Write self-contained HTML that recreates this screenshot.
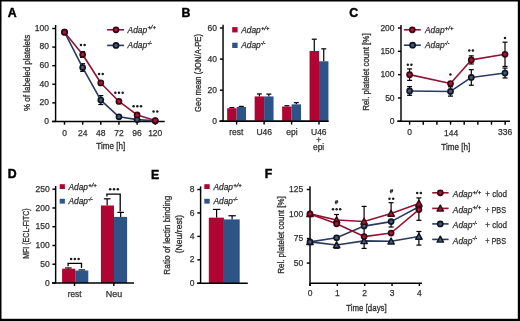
<!DOCTYPE html>
<html><head><meta charset="utf-8"><style>
html,body{margin:0;padding:0;background:#fff;}
body{width:520px;height:321px;overflow:hidden;}
svg{display:block;font-family:"Liberation Sans", sans-serif;will-change:transform;}
</style></head><body>
<svg width="520" height="321" viewBox="0 0 520 321">
<rect width="520" height="321" fill="#fff"/>
<rect x="0.00" y="0.00" width="520.00" height="1.50" fill="#000"/>
<rect x="0.00" y="0.00" width="1.50" height="321.00" fill="#000"/>
<rect x="517.80" y="0.00" width="2.20" height="321.00" fill="#000"/>
<rect x="0.00" y="318.80" width="520.00" height="2.20" fill="#000"/>
<text x="7.80" y="17.00" font-size="12.3" text-anchor="start" fill="#000" stroke="#000" stroke-width="0.45" font-weight="bold">A</text>
<text x="181.50" y="17.30" font-size="12.3" text-anchor="start" fill="#000" stroke="#000" stroke-width="0.45" font-weight="bold">B</text>
<text x="349.20" y="17.10" font-size="12.3" text-anchor="start" fill="#000" stroke="#000" stroke-width="0.45" font-weight="bold">C</text>
<text x="7.70" y="178.30" font-size="12.3" text-anchor="start" fill="#000" stroke="#000" stroke-width="0.45" font-weight="bold">D</text>
<text x="150.90" y="178.50" font-size="12.3" text-anchor="start" fill="#000" stroke="#000" stroke-width="0.45" font-weight="bold">E</text>
<text x="264.70" y="178.40" font-size="12.3" text-anchor="start" fill="#000" stroke="#000" stroke-width="0.45" font-weight="bold">F</text>
<line x1="55.60" y1="25.00" x2="55.60" y2="121.45" stroke="#000000" stroke-width="1.45"/>
<line x1="52.20" y1="121.45" x2="164.70" y2="121.45" stroke="#000000" stroke-width="1.45"/>
<line x1="52.30" y1="121.45" x2="55.60" y2="121.45" stroke="#000000" stroke-width="1.45"/>
<text x="49.00" y="123.75" font-size="8.6" text-anchor="end" fill="#303030" stroke="#303030" stroke-width="0.25" textLength="4.73" lengthAdjust="spacingAndGlyphs">0</text>
<line x1="52.30" y1="102.86" x2="55.60" y2="102.86" stroke="#000000" stroke-width="1.45"/>
<text x="49.00" y="105.16" font-size="8.6" text-anchor="end" fill="#303030" stroke="#303030" stroke-width="0.25" textLength="9.47" lengthAdjust="spacingAndGlyphs">20</text>
<line x1="52.30" y1="84.27" x2="55.60" y2="84.27" stroke="#000000" stroke-width="1.45"/>
<text x="49.00" y="86.57" font-size="8.6" text-anchor="end" fill="#303030" stroke="#303030" stroke-width="0.25" textLength="9.47" lengthAdjust="spacingAndGlyphs">40</text>
<line x1="52.30" y1="65.68" x2="55.60" y2="65.68" stroke="#000000" stroke-width="1.45"/>
<text x="49.00" y="67.98" font-size="8.6" text-anchor="end" fill="#303030" stroke="#303030" stroke-width="0.25" textLength="9.47" lengthAdjust="spacingAndGlyphs">60</text>
<line x1="52.30" y1="47.09" x2="55.60" y2="47.09" stroke="#000000" stroke-width="1.45"/>
<text x="49.00" y="49.39" font-size="8.6" text-anchor="end" fill="#303030" stroke="#303030" stroke-width="0.25" textLength="9.47" lengthAdjust="spacingAndGlyphs">80</text>
<line x1="52.30" y1="28.50" x2="55.60" y2="28.50" stroke="#000000" stroke-width="1.45"/>
<text x="49.00" y="30.80" font-size="8.6" text-anchor="end" fill="#303030" stroke="#303030" stroke-width="0.25" textLength="14.20" lengthAdjust="spacingAndGlyphs">100</text>
<line x1="64.50" y1="121.45" x2="64.50" y2="124.70" stroke="#000000" stroke-width="1.45"/>
<text x="64.50" y="135.70" font-size="8.6" text-anchor="middle" fill="#303030" stroke="#303030" stroke-width="0.25" textLength="4.73" lengthAdjust="spacingAndGlyphs">0</text>
<line x1="82.65" y1="121.45" x2="82.65" y2="124.70" stroke="#000000" stroke-width="1.45"/>
<text x="82.65" y="135.70" font-size="8.6" text-anchor="middle" fill="#303030" stroke="#303030" stroke-width="0.25" textLength="9.47" lengthAdjust="spacingAndGlyphs">24</text>
<line x1="100.80" y1="121.45" x2="100.80" y2="124.70" stroke="#000000" stroke-width="1.45"/>
<text x="100.80" y="135.70" font-size="8.6" text-anchor="middle" fill="#303030" stroke="#303030" stroke-width="0.25" textLength="9.47" lengthAdjust="spacingAndGlyphs">48</text>
<line x1="118.95" y1="121.45" x2="118.95" y2="124.70" stroke="#000000" stroke-width="1.45"/>
<text x="118.95" y="135.70" font-size="8.6" text-anchor="middle" fill="#303030" stroke="#303030" stroke-width="0.25" textLength="9.47" lengthAdjust="spacingAndGlyphs">72</text>
<line x1="137.10" y1="121.45" x2="137.10" y2="124.70" stroke="#000000" stroke-width="1.45"/>
<text x="137.10" y="135.70" font-size="8.6" text-anchor="middle" fill="#303030" stroke="#303030" stroke-width="0.25" textLength="9.47" lengthAdjust="spacingAndGlyphs">96</text>
<line x1="155.25" y1="121.45" x2="155.25" y2="124.70" stroke="#000000" stroke-width="1.45"/>
<text x="155.25" y="135.70" font-size="8.6" text-anchor="middle" fill="#303030" stroke="#303030" stroke-width="0.25" textLength="14.20" lengthAdjust="spacingAndGlyphs">120</text>
<text x="110.80" y="148.80" font-size="9.8" text-anchor="middle" fill="#303030" stroke="#303030" stroke-width="0.33" textLength="28.90" lengthAdjust="spacingAndGlyphs">Time [h]</text>
<text x="29.70" y="72.90" font-size="9.8" text-anchor="middle" fill="#303030" stroke="#303030" stroke-width="0.33" textLength="76.40" lengthAdjust="spacingAndGlyphs" transform="rotate(-90 29.70 72.90)">% of labeled platelets</text>
<line x1="82.65" y1="63.73" x2="82.65" y2="71.35" stroke="#000000" stroke-width="1.2"/>
<line x1="80.15" y1="63.73" x2="85.15" y2="63.73" stroke="#000000" stroke-width="1.2"/>
<line x1="80.15" y1="71.35" x2="85.15" y2="71.35" stroke="#000000" stroke-width="1.2"/>
<line x1="100.80" y1="95.61" x2="100.80" y2="104.53" stroke="#000000" stroke-width="1.2"/>
<line x1="98.30" y1="95.61" x2="103.30" y2="95.61" stroke="#000000" stroke-width="1.2"/>
<line x1="98.30" y1="104.53" x2="103.30" y2="104.53" stroke="#000000" stroke-width="1.2"/>
<line x1="82.65" y1="51.64" x2="82.65" y2="57.41" stroke="#000000" stroke-width="1.2"/>
<line x1="80.15" y1="51.64" x2="85.15" y2="51.64" stroke="#000000" stroke-width="1.2"/>
<line x1="80.15" y1="57.41" x2="85.15" y2="57.41" stroke="#000000" stroke-width="1.2"/>
<line x1="100.80" y1="81.11" x2="100.80" y2="84.83" stroke="#000000" stroke-width="1.2"/>
<line x1="98.30" y1="81.11" x2="103.30" y2="81.11" stroke="#000000" stroke-width="1.2"/>
<line x1="98.30" y1="84.83" x2="103.30" y2="84.83" stroke="#000000" stroke-width="1.2"/>
<line x1="118.95" y1="100.07" x2="118.95" y2="102.86" stroke="#000000" stroke-width="1.2"/>
<line x1="116.45" y1="100.07" x2="121.45" y2="100.07" stroke="#000000" stroke-width="1.2"/>
<line x1="116.45" y1="102.86" x2="121.45" y2="102.86" stroke="#000000" stroke-width="1.2"/>
<polyline points="64.50,32.22 82.65,67.54 100.80,100.07 118.95,116.80 137.10,119.59 155.25,120.89" fill="none" stroke="#2a3b5c" stroke-width="1.6" stroke-linejoin="round"/>
<polyline points="64.50,32.22 82.65,54.53 100.80,82.97 118.95,101.47 137.10,114.94 155.25,120.52" fill="none" stroke="#931334" stroke-width="1.6" stroke-linejoin="round"/>
<circle cx="64.50" cy="32.22" r="2.55" fill="#4a5872" stroke="#0e1424" stroke-width="1.65"/>
<circle cx="82.65" cy="67.54" r="2.55" fill="#4a5872" stroke="#0e1424" stroke-width="1.65"/>
<circle cx="100.80" cy="100.07" r="2.55" fill="#4a5872" stroke="#0e1424" stroke-width="1.65"/>
<circle cx="118.95" cy="116.80" r="2.55" fill="#4a5872" stroke="#0e1424" stroke-width="1.65"/>
<circle cx="137.10" cy="119.59" r="2.55" fill="#4a5872" stroke="#0e1424" stroke-width="1.65"/>
<circle cx="155.25" cy="120.89" r="2.55" fill="#4a5872" stroke="#0e1424" stroke-width="1.65"/>
<circle cx="64.50" cy="32.22" r="2.55" fill="#a3183c" stroke="#3a0612" stroke-width="1.65"/>
<circle cx="82.65" cy="54.53" r="2.55" fill="#a3183c" stroke="#3a0612" stroke-width="1.65"/>
<circle cx="100.80" cy="82.97" r="2.55" fill="#a3183c" stroke="#3a0612" stroke-width="1.65"/>
<circle cx="118.95" cy="101.47" r="2.55" fill="#a3183c" stroke="#3a0612" stroke-width="1.65"/>
<circle cx="137.10" cy="114.94" r="2.55" fill="#a3183c" stroke="#3a0612" stroke-width="1.65"/>
<circle cx="155.25" cy="120.52" r="2.55" fill="#a3183c" stroke="#3a0612" stroke-width="1.65"/>
<circle cx="80.95" cy="44.90" r="1.25" fill="#1a1a1a"/>
<circle cx="84.65" cy="44.90" r="1.25" fill="#1a1a1a"/>
<circle cx="99.05" cy="74.00" r="1.25" fill="#1a1a1a"/>
<circle cx="102.75" cy="74.00" r="1.25" fill="#1a1a1a"/>
<circle cx="115.30" cy="92.80" r="1.25" fill="#1a1a1a"/>
<circle cx="119.00" cy="92.80" r="1.25" fill="#1a1a1a"/>
<circle cx="122.70" cy="92.80" r="1.25" fill="#1a1a1a"/>
<circle cx="133.60" cy="106.20" r="1.25" fill="#1a1a1a"/>
<circle cx="137.30" cy="106.20" r="1.25" fill="#1a1a1a"/>
<circle cx="141.00" cy="106.20" r="1.25" fill="#1a1a1a"/>
<circle cx="153.55" cy="111.60" r="1.25" fill="#1a1a1a"/>
<circle cx="157.25" cy="111.60" r="1.25" fill="#1a1a1a"/>
<line x1="107.10" y1="29.80" x2="124.00" y2="29.80" stroke="#931334" stroke-width="1.6"/>
<circle cx="116.00" cy="29.80" r="2.55" fill="#a3183c" stroke="#3a0612" stroke-width="1.65"/>
<line x1="107.20" y1="45.40" x2="124.00" y2="45.40" stroke="#2a3b5c" stroke-width="1.6"/>
<circle cx="116.00" cy="45.40" r="2.55" fill="#4a5872" stroke="#0e1424" stroke-width="1.65"/>
<text x="127.60" y="32.60" font-size="8.2" text-anchor="start" fill="#303030" stroke="#303030" stroke-width="0.25" font-style="italic" textLength="19.60" lengthAdjust="spacingAndGlyphs">Adap</text>
<text x="147.40" y="29.40" font-size="6.0" text-anchor="start" fill="#303030" stroke="#303030" stroke-width="0.35" font-style="italic" textLength="8.60" lengthAdjust="spacingAndGlyphs">+/+</text>
<text x="127.60" y="48.00" font-size="8.2" text-anchor="start" fill="#303030" stroke="#303030" stroke-width="0.25" font-style="italic" textLength="19.60" lengthAdjust="spacingAndGlyphs">Adap</text>
<text x="147.40" y="44.80" font-size="6.0" text-anchor="start" fill="#303030" stroke="#303030" stroke-width="0.35" font-style="italic" textLength="4.40" lengthAdjust="spacingAndGlyphs">-/-</text>
<line x1="223.05" y1="24.70" x2="223.05" y2="121.30" stroke="#000000" stroke-width="1.45"/>
<line x1="219.60" y1="121.30" x2="328.40" y2="121.30" stroke="#000000" stroke-width="1.45"/>
<line x1="219.90" y1="121.30" x2="223.05" y2="121.30" stroke="#000000" stroke-width="1.45"/>
<text x="217.00" y="123.90" font-size="8.6" text-anchor="end" fill="#303030" stroke="#303030" stroke-width="0.25" textLength="4.73" lengthAdjust="spacingAndGlyphs">0</text>
<line x1="219.90" y1="90.20" x2="223.05" y2="90.20" stroke="#000000" stroke-width="1.45"/>
<text x="217.00" y="92.80" font-size="8.6" text-anchor="end" fill="#303030" stroke="#303030" stroke-width="0.25" textLength="9.47" lengthAdjust="spacingAndGlyphs">20</text>
<line x1="219.90" y1="59.10" x2="223.05" y2="59.10" stroke="#000000" stroke-width="1.45"/>
<text x="217.00" y="61.70" font-size="8.6" text-anchor="end" fill="#303030" stroke="#303030" stroke-width="0.25" textLength="9.47" lengthAdjust="spacingAndGlyphs">40</text>
<line x1="219.90" y1="28.00" x2="223.05" y2="28.00" stroke="#000000" stroke-width="1.45"/>
<text x="217.00" y="30.60" font-size="8.6" text-anchor="end" fill="#303030" stroke="#303030" stroke-width="0.25" textLength="9.47" lengthAdjust="spacingAndGlyphs">60</text>
<line x1="231.88" y1="107.62" x2="231.88" y2="108.24" stroke="#000000" stroke-width="1.2"/>
<line x1="229.38" y1="107.62" x2="234.38" y2="107.62" stroke="#000000" stroke-width="1.2"/>
<line x1="241.32" y1="106.37" x2="241.32" y2="106.99" stroke="#000000" stroke-width="1.2"/>
<line x1="238.82" y1="106.37" x2="243.82" y2="106.37" stroke="#000000" stroke-width="1.2"/>
<rect x="227.15" y="108.24" width="9.45" height="13.06" fill="#b00432"/>
<rect x="236.60" y="106.99" width="9.45" height="14.31" fill="#2e5487"/>
<line x1="236.60" y1="121.30" x2="236.60" y2="124.60" stroke="#000000" stroke-width="1.45"/>
<line x1="259.38" y1="93.93" x2="259.38" y2="96.42" stroke="#000000" stroke-width="1.2"/>
<line x1="256.88" y1="93.93" x2="261.88" y2="93.93" stroke="#000000" stroke-width="1.2"/>
<line x1="268.83" y1="94.09" x2="268.83" y2="96.42" stroke="#000000" stroke-width="1.2"/>
<line x1="266.33" y1="94.09" x2="271.33" y2="94.09" stroke="#000000" stroke-width="1.2"/>
<rect x="254.65" y="96.42" width="9.45" height="24.88" fill="#b00432"/>
<rect x="264.10" y="96.42" width="9.45" height="24.88" fill="#2e5487"/>
<line x1="264.10" y1="121.30" x2="264.10" y2="124.60" stroke="#000000" stroke-width="1.45"/>
<line x1="286.88" y1="105.75" x2="286.88" y2="106.53" stroke="#000000" stroke-width="1.2"/>
<line x1="284.38" y1="105.75" x2="289.38" y2="105.75" stroke="#000000" stroke-width="1.2"/>
<line x1="296.33" y1="102.64" x2="296.33" y2="104.35" stroke="#000000" stroke-width="1.2"/>
<line x1="293.83" y1="102.64" x2="298.83" y2="102.64" stroke="#000000" stroke-width="1.2"/>
<rect x="282.15" y="106.53" width="9.45" height="14.77" fill="#b00432"/>
<rect x="291.60" y="104.35" width="9.45" height="16.95" fill="#2e5487"/>
<line x1="291.60" y1="121.30" x2="291.60" y2="124.60" stroke="#000000" stroke-width="1.45"/>
<line x1="314.27" y1="39.20" x2="314.27" y2="51.01" stroke="#000000" stroke-width="1.2"/>
<line x1="311.77" y1="39.20" x2="316.77" y2="39.20" stroke="#000000" stroke-width="1.2"/>
<line x1="323.73" y1="48.84" x2="323.73" y2="61.28" stroke="#000000" stroke-width="1.2"/>
<line x1="321.23" y1="48.84" x2="326.23" y2="48.84" stroke="#000000" stroke-width="1.2"/>
<rect x="309.55" y="51.01" width="9.45" height="70.29" fill="#b00432"/>
<rect x="319.00" y="61.28" width="9.45" height="60.02" fill="#2e5487"/>
<line x1="319.00" y1="121.30" x2="319.00" y2="124.60" stroke="#000000" stroke-width="1.45"/>
<line x1="219.60" y1="121.30" x2="328.40" y2="121.30" stroke="#000000" stroke-width="1.45"/>
<text x="236.30" y="134.80" font-size="8.6" text-anchor="middle" fill="#303030" stroke="#303030" stroke-width="0.25" textLength="14.19" lengthAdjust="spacingAndGlyphs">rest</text>
<text x="264.20" y="134.80" font-size="8.6" text-anchor="middle" fill="#303030" stroke="#303030" stroke-width="0.25" textLength="15.62" lengthAdjust="spacingAndGlyphs">U46</text>
<text x="291.90" y="134.80" font-size="8.6" text-anchor="middle" fill="#303030" stroke="#303030" stroke-width="0.25" textLength="11.36" lengthAdjust="spacingAndGlyphs">epi</text>
<text x="318.80" y="134.80" font-size="8.6" text-anchor="middle" fill="#303030" stroke="#303030" stroke-width="0.25" textLength="15.62" lengthAdjust="spacingAndGlyphs">U46</text>
<text x="318.70" y="143.00" font-size="8.6" text-anchor="middle" fill="#303030" stroke="#303030" stroke-width="0.25" textLength="4.97" lengthAdjust="spacingAndGlyphs">+</text>
<text x="318.60" y="150.20" font-size="8.6" text-anchor="middle" fill="#303030" stroke="#303030" stroke-width="0.25" textLength="11.36" lengthAdjust="spacingAndGlyphs">epi</text>
<text x="200.50" y="73.00" font-size="9.8" text-anchor="middle" fill="#303030" stroke="#303030" stroke-width="0.33" textLength="78.00" lengthAdjust="spacingAndGlyphs" transform="rotate(-90 200.50 73.00)">Geo mean (JON/A-PE)</text>
<rect x="232.20" y="27.10" width="5.40" height="5.30" fill="#b00432"/>
<rect x="232.20" y="42.70" width="5.40" height="5.30" fill="#2e5487"/>
<text x="241.20" y="33.00" font-size="8.2" text-anchor="start" fill="#303030" stroke="#303030" stroke-width="0.25" font-style="italic" textLength="19.60" lengthAdjust="spacingAndGlyphs">Adap</text>
<text x="261.00" y="29.80" font-size="6.0" text-anchor="start" fill="#303030" stroke="#303030" stroke-width="0.35" font-style="italic" textLength="8.60" lengthAdjust="spacingAndGlyphs">+/+</text>
<text x="241.20" y="48.30" font-size="8.2" text-anchor="start" fill="#303030" stroke="#303030" stroke-width="0.25" font-style="italic" textLength="19.60" lengthAdjust="spacingAndGlyphs">Adap</text>
<text x="261.00" y="45.10" font-size="6.0" text-anchor="start" fill="#303030" stroke="#303030" stroke-width="0.35" font-style="italic" textLength="4.40" lengthAdjust="spacingAndGlyphs">-/-</text>
<line x1="401.00" y1="25.00" x2="401.00" y2="121.30" stroke="#000000" stroke-width="1.45"/>
<line x1="397.20" y1="121.30" x2="510.00" y2="121.30" stroke="#000000" stroke-width="1.45"/>
<line x1="397.90" y1="121.30" x2="401.00" y2="121.30" stroke="#000000" stroke-width="1.45"/>
<text x="394.60" y="123.90" font-size="8.6" text-anchor="end" fill="#303030" stroke="#303030" stroke-width="0.25" textLength="4.73" lengthAdjust="spacingAndGlyphs">0</text>
<line x1="397.90" y1="97.97" x2="401.00" y2="97.97" stroke="#000000" stroke-width="1.45"/>
<text x="394.60" y="100.57" font-size="8.6" text-anchor="end" fill="#303030" stroke="#303030" stroke-width="0.25" textLength="9.47" lengthAdjust="spacingAndGlyphs">50</text>
<line x1="397.90" y1="74.65" x2="401.00" y2="74.65" stroke="#000000" stroke-width="1.45"/>
<text x="394.60" y="77.25" font-size="8.6" text-anchor="end" fill="#303030" stroke="#303030" stroke-width="0.25" textLength="14.20" lengthAdjust="spacingAndGlyphs">100</text>
<line x1="397.90" y1="51.33" x2="401.00" y2="51.33" stroke="#000000" stroke-width="1.45"/>
<text x="394.60" y="53.93" font-size="8.6" text-anchor="end" fill="#303030" stroke="#303030" stroke-width="0.25" textLength="14.20" lengthAdjust="spacingAndGlyphs">150</text>
<line x1="397.90" y1="28.00" x2="401.00" y2="28.00" stroke="#000000" stroke-width="1.45"/>
<text x="394.60" y="30.60" font-size="8.6" text-anchor="end" fill="#303030" stroke="#303030" stroke-width="0.25" textLength="14.20" lengthAdjust="spacingAndGlyphs">200</text>
<line x1="409.60" y1="121.30" x2="409.60" y2="124.70" stroke="#000000" stroke-width="1.45"/>
<line x1="423.25" y1="121.30" x2="423.25" y2="124.70" stroke="#000000" stroke-width="1.45"/>
<line x1="436.90" y1="121.30" x2="436.90" y2="124.70" stroke="#000000" stroke-width="1.45"/>
<line x1="450.55" y1="121.30" x2="450.55" y2="124.70" stroke="#000000" stroke-width="1.45"/>
<line x1="464.20" y1="121.30" x2="464.20" y2="124.70" stroke="#000000" stroke-width="1.45"/>
<line x1="477.85" y1="121.30" x2="477.85" y2="124.70" stroke="#000000" stroke-width="1.45"/>
<line x1="491.50" y1="121.30" x2="491.50" y2="124.70" stroke="#000000" stroke-width="1.45"/>
<line x1="505.15" y1="121.30" x2="505.15" y2="124.70" stroke="#000000" stroke-width="1.45"/>
<text x="409.70" y="134.90" font-size="8.6" text-anchor="middle" fill="#303030" stroke="#303030" stroke-width="0.25" textLength="4.73" lengthAdjust="spacingAndGlyphs">0</text>
<text x="451.10" y="135.90" font-size="8.6" text-anchor="middle" fill="#303030" stroke="#303030" stroke-width="0.25" textLength="14.20" lengthAdjust="spacingAndGlyphs">144</text>
<text x="505.10" y="134.80" font-size="8.6" text-anchor="middle" fill="#303030" stroke="#303030" stroke-width="0.25" textLength="14.20" lengthAdjust="spacingAndGlyphs">336</text>
<text x="455.80" y="150.20" font-size="9.8" text-anchor="middle" fill="#303030" stroke="#303030" stroke-width="0.33" textLength="28.90" lengthAdjust="spacingAndGlyphs">Time [h]</text>
<text x="369.50" y="72.10" font-size="9.8" text-anchor="middle" fill="#303030" stroke="#303030" stroke-width="0.33" textLength="77.40" lengthAdjust="spacingAndGlyphs" transform="rotate(-90 369.50 72.10)">Rel. platelet count [%]</text>
<line x1="409.60" y1="86.64" x2="409.60" y2="95.32" stroke="#000000" stroke-width="1.2"/>
<line x1="407.10" y1="86.64" x2="412.10" y2="86.64" stroke="#000000" stroke-width="1.2"/>
<line x1="407.10" y1="95.32" x2="412.10" y2="95.32" stroke="#000000" stroke-width="1.2"/>
<line x1="450.50" y1="86.78" x2="450.50" y2="96.11" stroke="#000000" stroke-width="1.2"/>
<line x1="448.00" y1="86.78" x2="453.00" y2="86.78" stroke="#000000" stroke-width="1.2"/>
<line x1="448.00" y1="96.11" x2="453.00" y2="96.11" stroke="#000000" stroke-width="1.2"/>
<line x1="471.30" y1="69.66" x2="471.30" y2="85.24" stroke="#000000" stroke-width="1.2"/>
<line x1="468.80" y1="69.66" x2="473.80" y2="69.66" stroke="#000000" stroke-width="1.2"/>
<line x1="468.80" y1="85.24" x2="473.80" y2="85.24" stroke="#000000" stroke-width="1.2"/>
<line x1="505.00" y1="68.07" x2="505.00" y2="77.96" stroke="#000000" stroke-width="1.2"/>
<line x1="502.50" y1="68.07" x2="507.50" y2="68.07" stroke="#000000" stroke-width="1.2"/>
<line x1="502.50" y1="77.96" x2="507.50" y2="77.96" stroke="#000000" stroke-width="1.2"/>
<line x1="409.60" y1="68.91" x2="409.60" y2="80.39" stroke="#000000" stroke-width="1.2"/>
<line x1="407.10" y1="68.91" x2="412.10" y2="68.91" stroke="#000000" stroke-width="1.2"/>
<line x1="407.10" y1="80.39" x2="412.10" y2="80.39" stroke="#000000" stroke-width="1.2"/>
<line x1="450.50" y1="81.88" x2="450.50" y2="85.15" stroke="#000000" stroke-width="1.2"/>
<line x1="448.00" y1="81.88" x2="453.00" y2="81.88" stroke="#000000" stroke-width="1.2"/>
<line x1="448.00" y1="85.15" x2="453.00" y2="85.15" stroke="#000000" stroke-width="1.2"/>
<line x1="471.30" y1="55.85" x2="471.30" y2="63.97" stroke="#000000" stroke-width="1.2"/>
<line x1="468.80" y1="55.85" x2="473.80" y2="55.85" stroke="#000000" stroke-width="1.2"/>
<line x1="468.80" y1="63.97" x2="473.80" y2="63.97" stroke="#000000" stroke-width="1.2"/>
<line x1="505.00" y1="42.18" x2="505.00" y2="66.44" stroke="#000000" stroke-width="1.2"/>
<line x1="502.50" y1="42.18" x2="507.50" y2="42.18" stroke="#000000" stroke-width="1.2"/>
<line x1="502.50" y1="66.44" x2="507.50" y2="66.44" stroke="#000000" stroke-width="1.2"/>
<polyline points="409.60,90.98 450.50,91.44 471.30,77.45 505.00,73.02" fill="none" stroke="#2a3b5c" stroke-width="1.6" stroke-linejoin="round"/>
<polyline points="409.60,74.65 450.50,83.51 471.30,59.91 505.00,54.31" fill="none" stroke="#931334" stroke-width="1.6" stroke-linejoin="round"/>
<circle cx="409.60" cy="90.98" r="2.55" fill="#4a5872" stroke="#0e1424" stroke-width="1.65"/>
<circle cx="450.50" cy="91.44" r="2.55" fill="#4a5872" stroke="#0e1424" stroke-width="1.65"/>
<circle cx="471.30" cy="77.45" r="2.55" fill="#4a5872" stroke="#0e1424" stroke-width="1.65"/>
<circle cx="505.00" cy="73.02" r="2.55" fill="#4a5872" stroke="#0e1424" stroke-width="1.65"/>
<circle cx="409.60" cy="74.65" r="2.55" fill="#a3183c" stroke="#3a0612" stroke-width="1.65"/>
<circle cx="450.50" cy="83.51" r="2.55" fill="#a3183c" stroke="#3a0612" stroke-width="1.65"/>
<circle cx="471.30" cy="59.91" r="2.55" fill="#a3183c" stroke="#3a0612" stroke-width="1.65"/>
<circle cx="505.00" cy="54.31" r="2.55" fill="#a3183c" stroke="#3a0612" stroke-width="1.65"/>
<circle cx="407.80" cy="64.70" r="1.25" fill="#1a1a1a"/>
<circle cx="411.40" cy="64.70" r="1.25" fill="#1a1a1a"/>
<circle cx="450.40" cy="74.60" r="1.25" fill="#1a1a1a"/>
<circle cx="469.30" cy="50.40" r="1.25" fill="#1a1a1a"/>
<circle cx="472.90" cy="50.40" r="1.25" fill="#1a1a1a"/>
<circle cx="505.00" cy="38.10" r="1.25" fill="#1a1a1a"/>
<line x1="403.90" y1="29.80" x2="420.80" y2="29.80" stroke="#931334" stroke-width="1.6"/>
<circle cx="412.30" cy="29.80" r="2.55" fill="#a3183c" stroke="#3a0612" stroke-width="1.65"/>
<line x1="403.90" y1="45.20" x2="420.80" y2="45.20" stroke="#2a3b5c" stroke-width="1.6"/>
<circle cx="412.60" cy="45.20" r="2.55" fill="#4a5872" stroke="#0e1424" stroke-width="1.65"/>
<text x="425.00" y="32.70" font-size="8.2" text-anchor="start" fill="#303030" stroke="#303030" stroke-width="0.25" font-style="italic" textLength="19.60" lengthAdjust="spacingAndGlyphs">Adap</text>
<text x="444.80" y="29.50" font-size="6.0" text-anchor="start" fill="#303030" stroke="#303030" stroke-width="0.35" font-style="italic" textLength="8.60" lengthAdjust="spacingAndGlyphs">+/+</text>
<text x="425.00" y="47.80" font-size="8.2" text-anchor="start" fill="#303030" stroke="#303030" stroke-width="0.25" font-style="italic" textLength="19.60" lengthAdjust="spacingAndGlyphs">Adap</text>
<text x="444.80" y="44.60" font-size="6.0" text-anchor="start" fill="#303030" stroke="#303030" stroke-width="0.35" font-style="italic" textLength="4.40" lengthAdjust="spacingAndGlyphs">-/-</text>
<line x1="55.65" y1="186.00" x2="55.65" y2="283.00" stroke="#000000" stroke-width="1.45"/>
<line x1="52.40" y1="283.00" x2="55.65" y2="283.00" stroke="#000000" stroke-width="1.45"/>
<text x="49.80" y="285.60" font-size="8.6" text-anchor="end" fill="#303030" stroke="#303030" stroke-width="0.25" textLength="4.73" lengthAdjust="spacingAndGlyphs">0</text>
<line x1="52.40" y1="264.24" x2="55.65" y2="264.24" stroke="#000000" stroke-width="1.45"/>
<text x="49.80" y="266.84" font-size="8.6" text-anchor="end" fill="#303030" stroke="#303030" stroke-width="0.25" textLength="9.47" lengthAdjust="spacingAndGlyphs">50</text>
<line x1="52.40" y1="245.48" x2="55.65" y2="245.48" stroke="#000000" stroke-width="1.45"/>
<text x="49.80" y="248.08" font-size="8.6" text-anchor="end" fill="#303030" stroke="#303030" stroke-width="0.25" textLength="14.20" lengthAdjust="spacingAndGlyphs">100</text>
<line x1="52.40" y1="226.72" x2="55.65" y2="226.72" stroke="#000000" stroke-width="1.45"/>
<text x="49.80" y="229.32" font-size="8.6" text-anchor="end" fill="#303030" stroke="#303030" stroke-width="0.25" textLength="14.20" lengthAdjust="spacingAndGlyphs">150</text>
<line x1="52.40" y1="207.96" x2="55.65" y2="207.96" stroke="#000000" stroke-width="1.45"/>
<text x="49.80" y="210.56" font-size="8.6" text-anchor="end" fill="#303030" stroke="#303030" stroke-width="0.25" textLength="14.20" lengthAdjust="spacingAndGlyphs">200</text>
<line x1="52.40" y1="189.20" x2="55.65" y2="189.20" stroke="#000000" stroke-width="1.45"/>
<text x="49.80" y="191.80" font-size="8.6" text-anchor="end" fill="#303030" stroke="#303030" stroke-width="0.25" textLength="14.20" lengthAdjust="spacingAndGlyphs">250</text>
<line x1="68.35" y1="267.95" x2="68.35" y2="268.70" stroke="#000000" stroke-width="1.2"/>
<line x1="65.05" y1="267.95" x2="71.65" y2="267.95" stroke="#000000" stroke-width="1.2"/>
<line x1="81.85" y1="269.91" x2="81.85" y2="270.51" stroke="#000000" stroke-width="1.2"/>
<line x1="78.55" y1="269.91" x2="85.15" y2="269.91" stroke="#000000" stroke-width="1.2"/>
<rect x="62.10" y="268.70" width="13.10" height="14.30" fill="#b00432"/>
<rect x="75.20" y="270.51" width="13.10" height="12.49" fill="#2e5487"/>
<line x1="107.15" y1="198.81" x2="107.15" y2="205.48" stroke="#000000" stroke-width="1.2"/>
<line x1="103.85" y1="198.81" x2="110.45" y2="198.81" stroke="#000000" stroke-width="1.2"/>
<line x1="120.65" y1="212.39" x2="120.65" y2="216.89" stroke="#000000" stroke-width="1.2"/>
<line x1="117.35" y1="212.39" x2="123.95" y2="212.39" stroke="#000000" stroke-width="1.2"/>
<rect x="100.90" y="205.48" width="13.10" height="77.52" fill="#b00432"/>
<rect x="114.00" y="216.89" width="13.10" height="66.11" fill="#2e5487"/>
<line x1="52.00" y1="283.00" x2="134.00" y2="283.00" stroke="#000000" stroke-width="1.45"/>
<line x1="74.50" y1="283.00" x2="74.50" y2="286.00" stroke="#000000" stroke-width="1.45"/>
<line x1="113.80" y1="283.00" x2="113.80" y2="286.00" stroke="#000000" stroke-width="1.45"/>
<polyline points="68.1,266.3 68.1,263.3 81.5,263.3 81.5,268.1" fill="none" stroke="#000000" stroke-width="1.3"/>
<polyline points="106.9,196.6 106.9,194.2 120.2,194.2 120.2,211.5" fill="none" stroke="#000000" stroke-width="1.3"/>
<circle cx="71.15" cy="259.00" r="1.25" fill="#1a1a1a"/>
<circle cx="74.90" cy="259.00" r="1.25" fill="#1a1a1a"/>
<circle cx="78.65" cy="259.00" r="1.25" fill="#1a1a1a"/>
<circle cx="110.20" cy="189.30" r="1.25" fill="#1a1a1a"/>
<circle cx="114.00" cy="189.30" r="1.25" fill="#1a1a1a"/>
<circle cx="117.80" cy="189.30" r="1.25" fill="#1a1a1a"/>
<text x="74.60" y="296.80" font-size="8.6" text-anchor="middle" fill="#303030" stroke="#303030" stroke-width="0.25" textLength="13.70" lengthAdjust="spacingAndGlyphs">rest</text>
<text x="114.00" y="296.80" font-size="8.6" text-anchor="middle" fill="#303030" stroke="#303030" stroke-width="0.25" textLength="16.40" lengthAdjust="spacingAndGlyphs">Neu</text>
<text x="28.70" y="233.60" font-size="9.8" text-anchor="middle" fill="#303030" stroke="#303030" stroke-width="0.33" textLength="50.40" lengthAdjust="spacingAndGlyphs" transform="rotate(-90 28.70 233.60)">MFI (ECL-FITC)</text>
<rect x="59.70" y="184.20" width="5.20" height="4.80" fill="#b00432"/>
<rect x="59.70" y="198.80" width="5.20" height="4.80" fill="#2e5487"/>
<text x="68.40" y="189.80" font-size="8.2" text-anchor="start" fill="#303030" stroke="#303030" stroke-width="0.25" font-style="italic" textLength="19.60" lengthAdjust="spacingAndGlyphs">Adap</text>
<text x="88.20" y="186.60" font-size="6.0" text-anchor="start" fill="#303030" stroke="#303030" stroke-width="0.35" font-style="italic" textLength="8.60" lengthAdjust="spacingAndGlyphs">+/+</text>
<text x="68.40" y="204.00" font-size="8.2" text-anchor="start" fill="#303030" stroke="#303030" stroke-width="0.25" font-style="italic" textLength="19.60" lengthAdjust="spacingAndGlyphs">Adap</text>
<text x="88.20" y="200.80" font-size="6.0" text-anchor="start" fill="#303030" stroke="#303030" stroke-width="0.35" font-style="italic" textLength="4.40" lengthAdjust="spacingAndGlyphs">-/-</text>
<line x1="200.60" y1="186.40" x2="200.60" y2="283.30" stroke="#000000" stroke-width="1.45"/>
<line x1="197.30" y1="283.30" x2="200.60" y2="283.30" stroke="#000000" stroke-width="1.45"/>
<text x="194.60" y="285.90" font-size="8.6" text-anchor="end" fill="#303030" stroke="#303030" stroke-width="0.25" textLength="4.73" lengthAdjust="spacingAndGlyphs">0</text>
<line x1="197.30" y1="259.85" x2="200.60" y2="259.85" stroke="#000000" stroke-width="1.45"/>
<text x="194.60" y="262.45" font-size="8.6" text-anchor="end" fill="#303030" stroke="#303030" stroke-width="0.25" textLength="4.73" lengthAdjust="spacingAndGlyphs">2</text>
<line x1="197.30" y1="236.40" x2="200.60" y2="236.40" stroke="#000000" stroke-width="1.45"/>
<text x="194.60" y="239.00" font-size="8.6" text-anchor="end" fill="#303030" stroke="#303030" stroke-width="0.25" textLength="4.73" lengthAdjust="spacingAndGlyphs">4</text>
<line x1="197.30" y1="212.95" x2="200.60" y2="212.95" stroke="#000000" stroke-width="1.45"/>
<text x="194.60" y="215.55" font-size="8.6" text-anchor="end" fill="#303030" stroke="#303030" stroke-width="0.25" textLength="4.73" lengthAdjust="spacingAndGlyphs">6</text>
<line x1="197.30" y1="189.50" x2="200.60" y2="189.50" stroke="#000000" stroke-width="1.45"/>
<text x="194.60" y="192.10" font-size="8.6" text-anchor="end" fill="#303030" stroke="#303030" stroke-width="0.25" textLength="4.73" lengthAdjust="spacingAndGlyphs">8</text>
<line x1="216.60" y1="209.43" x2="216.60" y2="217.64" stroke="#000000" stroke-width="1.2"/>
<line x1="212.85" y1="209.43" x2="220.35" y2="209.43" stroke="#000000" stroke-width="1.2"/>
<line x1="232.10" y1="215.76" x2="232.10" y2="219.40" stroke="#000000" stroke-width="1.2"/>
<line x1="228.40" y1="215.76" x2="235.80" y2="215.76" stroke="#000000" stroke-width="1.2"/>
<rect x="208.80" y="217.64" width="15.10" height="65.66" fill="#b00432"/>
<rect x="223.90" y="219.40" width="15.80" height="63.90" fill="#2e5487"/>
<line x1="197.20" y1="283.30" x2="247.80" y2="283.30" stroke="#000000" stroke-width="1.45"/>
<text x="170.10" y="235.10" font-size="9.8" text-anchor="middle" fill="#303030" stroke="#303030" stroke-width="0.33" textLength="79.10" lengthAdjust="spacingAndGlyphs" transform="rotate(-90 170.10 235.10)">Ratio of lectin binding</text>
<text x="182.00" y="234.10" font-size="9.8" text-anchor="middle" fill="#303030" stroke="#303030" stroke-width="0.33" textLength="38.40" lengthAdjust="spacingAndGlyphs" transform="rotate(-90 182.00 234.10)">(Neu/rest)</text>
<rect x="204.30" y="184.20" width="5.40" height="4.80" fill="#b00432"/>
<rect x="204.30" y="198.80" width="5.40" height="4.80" fill="#2e5487"/>
<text x="213.40" y="189.80" font-size="8.2" text-anchor="start" fill="#303030" stroke="#303030" stroke-width="0.25" font-style="italic" textLength="19.60" lengthAdjust="spacingAndGlyphs">Adap</text>
<text x="233.20" y="186.60" font-size="6.0" text-anchor="start" fill="#303030" stroke="#303030" stroke-width="0.35" font-style="italic" textLength="8.60" lengthAdjust="spacingAndGlyphs">+/+</text>
<text x="213.40" y="204.00" font-size="8.2" text-anchor="start" fill="#303030" stroke="#303030" stroke-width="0.25" font-style="italic" textLength="19.60" lengthAdjust="spacingAndGlyphs">Adap</text>
<text x="233.20" y="200.80" font-size="6.0" text-anchor="start" fill="#303030" stroke="#303030" stroke-width="0.35" font-style="italic" textLength="4.40" lengthAdjust="spacingAndGlyphs">-/-</text>
<line x1="310.00" y1="186.20" x2="310.00" y2="286.00" stroke="#000000" stroke-width="1.45"/>
<line x1="306.80" y1="263.07" x2="310.00" y2="263.07" stroke="#000000" stroke-width="1.45"/>
<text x="303.20" y="265.68" font-size="8.6" text-anchor="end" fill="#303030" stroke="#303030" stroke-width="0.25" textLength="9.47" lengthAdjust="spacingAndGlyphs">50</text>
<line x1="306.80" y1="238.55" x2="310.00" y2="238.55" stroke="#000000" stroke-width="1.45"/>
<text x="303.20" y="241.15" font-size="8.6" text-anchor="end" fill="#303030" stroke="#303030" stroke-width="0.25" textLength="9.47" lengthAdjust="spacingAndGlyphs">75</text>
<line x1="306.80" y1="214.03" x2="310.00" y2="214.03" stroke="#000000" stroke-width="1.45"/>
<text x="303.20" y="216.62" font-size="8.6" text-anchor="end" fill="#303030" stroke="#303030" stroke-width="0.25" textLength="14.20" lengthAdjust="spacingAndGlyphs">100</text>
<line x1="306.80" y1="189.50" x2="310.00" y2="189.50" stroke="#000000" stroke-width="1.45"/>
<text x="303.20" y="192.10" font-size="8.6" text-anchor="end" fill="#303030" stroke="#303030" stroke-width="0.25" textLength="14.20" lengthAdjust="spacingAndGlyphs">125</text>
<line x1="310.00" y1="283.20" x2="422.00" y2="283.20" stroke="#000000" stroke-width="1.45"/>
<line x1="310.00" y1="283.20" x2="310.00" y2="286.00" stroke="#000000" stroke-width="1.45"/>
<text x="310.00" y="296.40" font-size="8.6" text-anchor="middle" fill="#303030" stroke="#303030" stroke-width="0.25" textLength="4.73" lengthAdjust="spacingAndGlyphs">0</text>
<line x1="337.35" y1="283.20" x2="337.35" y2="286.00" stroke="#000000" stroke-width="1.45"/>
<text x="337.35" y="296.40" font-size="8.6" text-anchor="middle" fill="#303030" stroke="#303030" stroke-width="0.25" textLength="4.73" lengthAdjust="spacingAndGlyphs">1</text>
<line x1="364.70" y1="283.20" x2="364.70" y2="286.00" stroke="#000000" stroke-width="1.45"/>
<text x="364.70" y="296.40" font-size="8.6" text-anchor="middle" fill="#303030" stroke="#303030" stroke-width="0.25" textLength="4.73" lengthAdjust="spacingAndGlyphs">2</text>
<line x1="392.05" y1="283.20" x2="392.05" y2="286.00" stroke="#000000" stroke-width="1.45"/>
<text x="392.05" y="296.40" font-size="8.6" text-anchor="middle" fill="#303030" stroke="#303030" stroke-width="0.25" textLength="4.73" lengthAdjust="spacingAndGlyphs">3</text>
<line x1="419.40" y1="283.20" x2="419.40" y2="286.00" stroke="#000000" stroke-width="1.45"/>
<text x="419.40" y="296.40" font-size="8.6" text-anchor="middle" fill="#303030" stroke="#303030" stroke-width="0.25" textLength="4.73" lengthAdjust="spacingAndGlyphs">4</text>
<text x="366.50" y="310.50" font-size="9.8" text-anchor="middle" fill="#303030" stroke="#303030" stroke-width="0.33" textLength="40.40" lengthAdjust="spacingAndGlyphs">Time [days]</text>
<text x="283.60" y="235.00" font-size="9.8" text-anchor="middle" fill="#303030" stroke="#303030" stroke-width="0.33" textLength="77.60" lengthAdjust="spacingAndGlyphs" transform="rotate(-90 283.60 235.00)">Rel. platelet count [%]</text>
<line x1="336.60" y1="214.50" x2="336.60" y2="220.00" stroke="#000000" stroke-width="1.2"/>
<line x1="334.10" y1="214.50" x2="339.10" y2="214.50" stroke="#000000" stroke-width="1.2"/>
<line x1="364.10" y1="206.40" x2="364.10" y2="248.40" stroke="#000000" stroke-width="1.2"/>
<line x1="361.60" y1="206.40" x2="366.60" y2="206.40" stroke="#000000" stroke-width="1.2"/>
<line x1="361.60" y1="248.40" x2="366.60" y2="248.40" stroke="#000000" stroke-width="1.2"/>
<line x1="391.10" y1="202.70" x2="391.10" y2="213.50" stroke="#000000" stroke-width="1.2"/>
<line x1="388.60" y1="202.70" x2="393.60" y2="202.70" stroke="#000000" stroke-width="1.2"/>
<line x1="391.10" y1="221.60" x2="391.10" y2="227.00" stroke="#000000" stroke-width="1.2"/>
<line x1="388.60" y1="227.00" x2="393.60" y2="227.00" stroke="#000000" stroke-width="1.2"/>
<line x1="418.90" y1="197.90" x2="418.90" y2="220.30" stroke="#000000" stroke-width="1.2"/>
<line x1="416.40" y1="197.90" x2="421.40" y2="197.90" stroke="#000000" stroke-width="1.2"/>
<line x1="416.40" y1="220.30" x2="421.40" y2="220.30" stroke="#000000" stroke-width="1.2"/>
<line x1="418.90" y1="231.50" x2="418.90" y2="245.10" stroke="#000000" stroke-width="1.2"/>
<line x1="416.40" y1="231.50" x2="421.40" y2="231.50" stroke="#000000" stroke-width="1.2"/>
<line x1="416.40" y1="245.10" x2="421.40" y2="245.10" stroke="#000000" stroke-width="1.2"/>
<line x1="336.60" y1="245.00" x2="336.60" y2="248.20" stroke="#000000" stroke-width="1.2"/>
<line x1="334.10" y1="248.20" x2="339.10" y2="248.20" stroke="#000000" stroke-width="1.2"/>
<polyline points="310.00,241.90 336.60,245.00 364.10,240.90 391.10,241.30 418.90,236.50" fill="none" stroke="#2a3b5c" stroke-width="1.6" stroke-linejoin="round"/>
<polyline points="310.00,241.90 336.60,237.80 364.10,226.10 391.10,221.60 418.90,206.80" fill="none" stroke="#2a3b5c" stroke-width="1.6" stroke-linejoin="round"/>
<polyline points="310.00,213.90 336.60,220.00 364.10,221.50 391.10,213.50 418.90,203.40" fill="none" stroke="#931334" stroke-width="1.6" stroke-linejoin="round"/>
<polyline points="310.00,213.90 336.60,223.80 364.10,236.60 391.10,233.00 418.90,209.60" fill="none" stroke="#931334" stroke-width="1.6" stroke-linejoin="round"/>
<polygon points="310.00,238.70 306.80,244.60 313.20,244.60" fill="#4a5872" stroke="#0e1424" stroke-width="1.4" stroke-linejoin="round"/>
<polygon points="336.60,241.80 333.40,247.70 339.80,247.70" fill="#4a5872" stroke="#0e1424" stroke-width="1.4" stroke-linejoin="round"/>
<polygon points="364.10,237.70 360.90,243.60 367.30,243.60" fill="#4a5872" stroke="#0e1424" stroke-width="1.4" stroke-linejoin="round"/>
<polygon points="391.10,238.10 387.90,244.00 394.30,244.00" fill="#4a5872" stroke="#0e1424" stroke-width="1.4" stroke-linejoin="round"/>
<polygon points="418.90,233.30 415.70,239.20 422.10,239.20" fill="#4a5872" stroke="#0e1424" stroke-width="1.4" stroke-linejoin="round"/>
<circle cx="310.00" cy="241.90" r="2.55" fill="#4a5872" stroke="#0e1424" stroke-width="1.65"/>
<circle cx="336.60" cy="237.80" r="2.55" fill="#4a5872" stroke="#0e1424" stroke-width="1.65"/>
<circle cx="364.10" cy="226.10" r="2.55" fill="#4a5872" stroke="#0e1424" stroke-width="1.65"/>
<circle cx="391.10" cy="221.60" r="2.55" fill="#4a5872" stroke="#0e1424" stroke-width="1.65"/>
<circle cx="418.90" cy="206.80" r="2.55" fill="#4a5872" stroke="#0e1424" stroke-width="1.65"/>
<polygon points="310.00,210.70 306.80,216.60 313.20,216.60" fill="#a3183c" stroke="#3a0612" stroke-width="1.4" stroke-linejoin="round"/>
<polygon points="336.60,216.80 333.40,222.70 339.80,222.70" fill="#a3183c" stroke="#3a0612" stroke-width="1.4" stroke-linejoin="round"/>
<polygon points="364.10,218.30 360.90,224.20 367.30,224.20" fill="#a3183c" stroke="#3a0612" stroke-width="1.4" stroke-linejoin="round"/>
<polygon points="391.10,210.30 387.90,216.20 394.30,216.20" fill="#a3183c" stroke="#3a0612" stroke-width="1.4" stroke-linejoin="round"/>
<polygon points="418.90,200.20 415.70,206.10 422.10,206.10" fill="#a3183c" stroke="#3a0612" stroke-width="1.4" stroke-linejoin="round"/>
<circle cx="310.00" cy="213.90" r="2.55" fill="#a3183c" stroke="#3a0612" stroke-width="1.65"/>
<circle cx="336.60" cy="223.80" r="2.55" fill="#a3183c" stroke="#3a0612" stroke-width="1.65"/>
<circle cx="364.10" cy="236.60" r="2.55" fill="#a3183c" stroke="#3a0612" stroke-width="1.65"/>
<circle cx="391.10" cy="233.00" r="2.55" fill="#a3183c" stroke="#3a0612" stroke-width="1.65"/>
<circle cx="418.90" cy="209.60" r="2.55" fill="#a3183c" stroke="#3a0612" stroke-width="1.65"/>
<text x="336.50" y="203.90" font-size="6.2" text-anchor="middle" fill="#1a1a1a" stroke="#1a1a1a" stroke-width="0.25" font-weight="bold">#</text>
<circle cx="333.00" cy="209.20" r="1.25" fill="#1a1a1a"/>
<circle cx="336.60" cy="209.20" r="1.25" fill="#1a1a1a"/>
<circle cx="340.20" cy="209.20" r="1.25" fill="#1a1a1a"/>
<text x="391.40" y="193.00" font-size="6.2" text-anchor="middle" fill="#1a1a1a" stroke="#1a1a1a" stroke-width="0.25" font-weight="bold">#</text>
<circle cx="389.50" cy="198.80" r="1.25" fill="#1a1a1a"/>
<circle cx="393.20" cy="198.80" r="1.25" fill="#1a1a1a"/>
<circle cx="417.20" cy="193.10" r="1.25" fill="#1a1a1a"/>
<circle cx="420.80" cy="193.10" r="1.25" fill="#1a1a1a"/>
<line x1="432.20" y1="192.80" x2="448.60" y2="192.80" stroke="#931334" stroke-width="1.6"/>
<circle cx="440.30" cy="192.80" r="2.55" fill="#a3183c" stroke="#3a0612" stroke-width="1.65"/>
<text x="452.80" y="197.00" font-size="8.2" text-anchor="start" fill="#303030" stroke="#303030" stroke-width="0.25" font-style="italic" textLength="19.60" lengthAdjust="spacingAndGlyphs">Adap</text>
<text x="472.60" y="193.80" font-size="6.0" text-anchor="start" fill="#303030" stroke="#303030" stroke-width="0.35" font-style="italic" textLength="8.60" lengthAdjust="spacingAndGlyphs">+/+</text>
<text x="485.20" y="197.00" font-size="8.3" text-anchor="start" fill="#303030" stroke="#303030" stroke-width="0.25" textLength="21.90" lengthAdjust="spacingAndGlyphs">+ clod</text>
<line x1="432.20" y1="208.40" x2="448.60" y2="208.40" stroke="#931334" stroke-width="1.6"/>
<polygon points="440.30,205.20 437.10,211.10 443.50,211.10" fill="#a3183c" stroke="#3a0612" stroke-width="1.4" stroke-linejoin="round"/>
<text x="452.80" y="212.60" font-size="8.2" text-anchor="start" fill="#303030" stroke="#303030" stroke-width="0.25" font-style="italic" textLength="19.60" lengthAdjust="spacingAndGlyphs">Adap</text>
<text x="472.60" y="209.40" font-size="6.0" text-anchor="start" fill="#303030" stroke="#303030" stroke-width="0.35" font-style="italic" textLength="8.60" lengthAdjust="spacingAndGlyphs">+/+</text>
<text x="485.20" y="212.60" font-size="8.3" text-anchor="start" fill="#303030" stroke="#303030" stroke-width="0.25" textLength="20.80" lengthAdjust="spacingAndGlyphs">+ PBS</text>
<line x1="432.20" y1="223.90" x2="448.60" y2="223.90" stroke="#2a3b5c" stroke-width="1.6"/>
<circle cx="440.30" cy="223.90" r="2.55" fill="#4a5872" stroke="#0e1424" stroke-width="1.65"/>
<text x="452.80" y="228.10" font-size="8.2" text-anchor="start" fill="#303030" stroke="#303030" stroke-width="0.25" font-style="italic" textLength="19.60" lengthAdjust="spacingAndGlyphs">Adap</text>
<text x="472.60" y="224.90" font-size="6.0" text-anchor="start" fill="#303030" stroke="#303030" stroke-width="0.35" font-style="italic" textLength="4.40" lengthAdjust="spacingAndGlyphs">-/-</text>
<text x="485.20" y="228.10" font-size="8.3" text-anchor="start" fill="#303030" stroke="#303030" stroke-width="0.25" textLength="21.90" lengthAdjust="spacingAndGlyphs">+ clod</text>
<line x1="432.20" y1="239.40" x2="448.60" y2="239.40" stroke="#2a3b5c" stroke-width="1.6"/>
<polygon points="440.30,236.20 437.10,242.10 443.50,242.10" fill="#4a5872" stroke="#0e1424" stroke-width="1.4" stroke-linejoin="round"/>
<text x="452.80" y="243.60" font-size="8.2" text-anchor="start" fill="#303030" stroke="#303030" stroke-width="0.25" font-style="italic" textLength="19.60" lengthAdjust="spacingAndGlyphs">Adap</text>
<text x="472.60" y="240.40" font-size="6.0" text-anchor="start" fill="#303030" stroke="#303030" stroke-width="0.35" font-style="italic" textLength="4.40" lengthAdjust="spacingAndGlyphs">-/-</text>
<text x="485.20" y="243.60" font-size="8.3" text-anchor="start" fill="#303030" stroke="#303030" stroke-width="0.25" textLength="20.80" lengthAdjust="spacingAndGlyphs">+ PBS</text>
</svg>
</body></html>
